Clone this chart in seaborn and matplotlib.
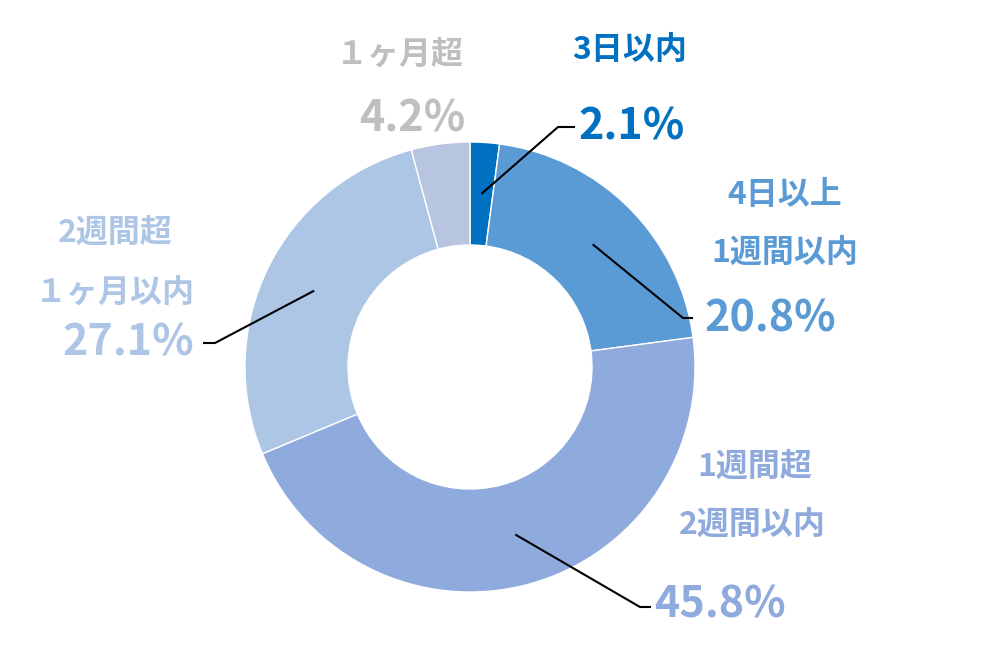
import numpy as np
import matplotlib
matplotlib.use('Agg')
import matplotlib.pyplot as plt
import seaborn as sns

# データ
categories = ['3日以内', '4日以上\n1週間以内', '1週間超\n2週間以内', '2週間超\n１ヶ月以内', '１ヶ月超']
values = [2.1, 20.8, 45.8, 27.1, 4.2]
slice_colors = ['#0070C0', '#5B9BD5', '#8FAADC', '#ADC6E6', '#B8C5E0']
label_colors = ['#0070C0', '#5B9BD5', '#8FAADC', '#ADC6E6', '#BFBFBF']

sns.set_style('white')
plt.rcParams['font.family'] = ['Noto Sans CJK JP', 'DejaVu Sans']

W, H = 988, 659
fig = plt.figure(figsize=(W / 100, H / 100), dpi=100)
ax = fig.add_axes([0, 0, 1, 1])


def py(y):
    # 画像座標(上が0) -> データ座標
    return H - y


cx, cy = 470, py(367)
r_out, r_in = 225, 122

wedges, _ = ax.pie(values, colors=slice_colors, startangle=90, counterclock=False,
                   radius=r_out, center=(cx, cy),
                   wedgeprops=dict(width=r_out - r_in, edgecolor='white', linewidth=1))

# pie() が軸範囲を上書きするので後で設定
ax.set_xlim(0, W)
ax.set_ylim(0, H)
ax.set_aspect('equal')
ax.axis('off')

# ラベル配置 (カテゴリ位置, パーセント位置, 引き出し線の端点)
cat_pos = [[(630, 50)], [(785, 195), (785, 253)], [(755, 467), (752, 525)],
           [(115, 233), (115, 293)], [(400, 55)]]
pct_pos = [(632, 127), (770, 318), (720, 605), (128, 343), (412, 118)]
elbows = [((558, 127), (575, 127)), ((683, 318), (693, 318)),
          ((640, 607), (651, 607)), ((215, 343), (203, 343)), None]

cum = 0.0
for i, v in enumerate(values):
    mid = np.deg2rad(90 - (cum + v / 2) * 3.6)
    cum += v
    lines = categories[i].split('\n')
    for (x, y), txt in zip(cat_pos[i], lines):
        ax.text(x, py(y), txt, color=label_colors[i], fontsize=23, fontweight='bold',
                ha='center', va='center')
    x, y = pct_pos[i]
    ax.text(x, py(y), f'{v:.1f}%', color=label_colors[i], fontsize=31, fontweight='bold',
            ha='center', va='center')
    if elbows[i] is not None:
        rm = (r_out + r_in) / 2
        sx, sy = cx + rm * np.cos(mid), cy + rm * np.sin(mid)
        (ex, ey), (hx, hy) = elbows[i]
        ax.plot([sx, ex, hx], [sy, py(ey), py(hy)], color='black', linewidth=1.5,
                solid_capstyle='butt')

fig.savefig('out.png', dpi=100, facecolor='white')
